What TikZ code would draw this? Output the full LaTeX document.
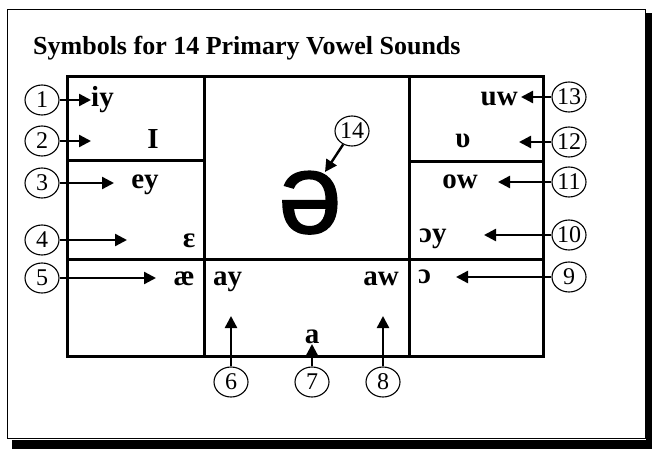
\documentclass[tikz,border=0pt]{standalone}
\usepackage{fontspec}
\setmainfont{Liberation Serif}
\newfontfamily\schwafont[FakeBold=1.2]{Liberation Sans}
\usetikzlibrary{arrows.meta,shapes.geometric}
\tikzset{
  boxline/.style={line width=3pt},
  num/.style={ellipse,draw,line width=1.1pt,minimum width=34pt,minimum height=30pt,inner sep=0pt,font=\fontsize{24}{24}\selectfont},
  lab/.style={inner sep=0pt,font=\fontsize{29}{29}\selectfont\bfseries},
  pointer/.style={line width=2.4pt,-{Triangle[length=12pt,width=12pt]}},
}
\begin{document}
\begin{tikzpicture}[x=1pt,y=-1pt]
\useasboundingbox (0,0) rectangle (652,449);
% frame with shadow
\fill[black] (12,440) rectangle (652,449);
\fill[black] (646,13) rectangle (652,449);
\draw[line width=1pt] (7,10) rectangle (645,438);
% title
\node[anchor=base west,inner sep=0pt,font=\fontsize{26}{26}\selectfont\bfseries] (title) at (33,55) {Symbols for 14 Primary Vowel Sounds};
% grid
\draw[boxline] (67,77) rectangle (543,356);
\draw[boxline] (204,77) -- (204,356);
\draw[boxline] (409,77) -- (409,356);
\draw[boxline] (67,160) -- (204,160);
\draw[boxline] (409,161) -- (543,161);
\draw[boxline] (67,259) -- (543,259);
% labels
\node[lab,anchor=base west] (iy) at (91,107) {iy};
\node[lab,anchor=base] (I) at (153,149) {I};
\node[lab,anchor=base] (ey) at (145,188) {ey};
\node[lab,anchor=base] (eps) at (189,247) {ɛ};
\node[lab,anchor=base] (ae) at (184,285) {æ};
\node[lab,anchor=base west] (ay) at (213,285) {ay};
\node[lab,anchor=base east] (aw) at (399,285) {aw};
\node[lab,anchor=base] (a) at (312,343) {a};
\node[lab,anchor=base west] (oo) at (418,283) {ɔ};
\node[lab,anchor=base west] (oy) at (419,242) {ɔy};
\node[lab,anchor=base] (ow) at (460,188) {ow};
\node[lab,anchor=base] (u) at (463,147) {υ};
\node[lab,anchor=base east] (uw) at (518,106) {uw};
\node[inner sep=0pt,anchor=base,font=\fontsize{115}{115}\selectfont\schwafont] (schwa) at (310,233) {ə};
% circled numbers
\node[num] (n1) at (42,100) {1};
\node[num] (n2) at (42,141) {2};
\node[num] (n3) at (42,183) {3};
\node[num] (n4) at (42,240) {4};
\node[num] (n5) at (42,278) {5};
\node[num] (n6) at (231,382) {6};
\node[num] (n7) at (312,382) {7};
\node[num] (n8) at (383,382) {8};
\node[num] (n9) at (569,277) {9};
\node[num] (n10) at (569,235) {10};
\node[num] (n11) at (569,182) {11};
\node[num] (n12) at (569,142) {12};
\node[num] (n13) at (569,97) {13};
\node[num] (n14) at (352,131) {14};
% arrow end points
\coordinate (t1) at (91,100);
\coordinate (t2) at (91,141);
\coordinate (t3) at (114,183);
\coordinate (t4) at (127,240);
\coordinate (t5) at (156,278);
\coordinate (t6) at (231,316);
\coordinate (t7) at (312,344);
\coordinate (t8) at (383,316);
\coordinate (t9) at (456,277);
\coordinate (t10) at (484,235);
\coordinate (t11) at (498,182);
\coordinate (t12) at (519,142);
\coordinate (t13) at (521,97);
\coordinate (t14) at (325,172);
\draw[pointer] (n1) -- (t1);
\draw[pointer] (n2) -- (t2);
\draw[pointer] (n3) -- (t3);
\draw[pointer] (n4) -- (t4);
\draw[pointer] (n5) -- (t5);
\draw[pointer] (n6) -- (t6);
\draw[pointer] (n7) -- (t7);
\draw[pointer] (n8) -- (t8);
\draw[pointer] (n9) -- (t9);
\draw[pointer] (n10) -- (t10);
\draw[pointer] (n11) -- (t11);
\draw[pointer] (n12) -- (t12);
\draw[pointer] (n13) -- (t13);
\draw[pointer] (n14) -- (t14);
\end{tikzpicture}
\end{document}
